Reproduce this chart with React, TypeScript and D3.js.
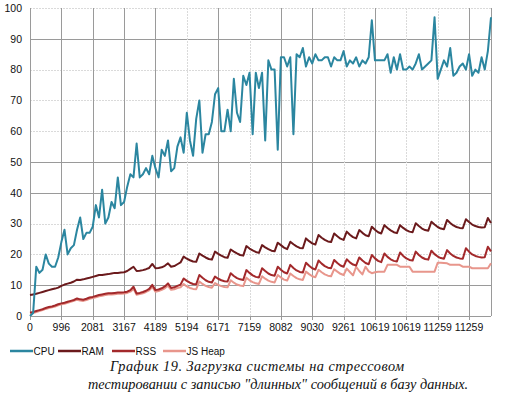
import React from 'react';
import * as d3 from 'd3';

const cpu = [
  0, 1, 16, 14, 15, 20, 17, 16, 16, 19,
  24, 28, 20, 22, 23, 28, 32, 25, 27, 27,
  29, 36, 32, 41, 30, 32, 37, 35, 45, 36,
  37, 42, 46, 45, 56, 45, 46, 48, 46, 52,
  48, 45, 54, 52, 57, 47, 48, 55, 58, 53,
  66, 57, 52, 64, 70, 53, 59, 59, 63, 72,
  74, 60, 60, 67, 60, 77, 66, 63, 78, 75,
  79, 59, 79, 74, 79, 57, 83, 80, 80, 54,
  84, 84, 81, 84, 59, 85, 84, 87, 81, 84,
  82, 85, 83, 83, 84, 84, 81, 84, 83, 83,
  86, 81, 83, 82, 84, 81, 83, 82, 84, 96,
  83, 83, 83, 83, 85, 79, 84, 80, 85, 80,
  80, 81, 80, 82, 85, 80, 81, 82, 83, 97,
  77, 80, 83, 81, 87, 78, 79, 81, 82, 80,
  85, 78, 80, 79, 84, 80, 86, 97,
];

const ram = [
  6.8, 7.0, 7.2, 7.5, 7.8, 8.1, 8.4, 8.7, 8.9, 9.2,
  9.8, 10.2, 10.5, 10.8, 11.2, 11.8, 11.7, 11.9, 12.2, 12.4,
  12.7, 13.0, 13.3, 13.3, 13.5, 13.6, 13.8, 14.0, 14.0, 14.1,
  14.2, 14.6, 15.3, 16.0, 14.6, 14.7, 14.9, 15.2, 15.6, 16.9,
  15.5, 15.6, 15.8, 16.3, 17.1, 16.0, 16.2, 16.8, 17.4, 19.3,
  18.6, 18.1, 17.7, 17.6, 20.3, 19.6, 19.0, 18.5, 18.3, 20.9,
  20.2, 19.6, 19.1, 18.9, 21.6, 20.9, 20.3, 19.8, 19.6, 22.7,
  21.9, 21.3, 20.8, 20.5, 23.0, 22.3, 21.7, 21.2, 21.0, 23.8,
  23.0, 22.2, 21.7, 24.1, 23.3, 22.6, 22.1, 22.0, 25.2, 24.3,
  23.6, 23.2, 26.3, 25.4, 24.7, 24.2, 24.0, 26.8, 25.9, 25.1,
  24.7, 27.4, 26.4, 25.6, 25.2, 27.9, 27.0, 26.2, 25.9, 29.0,
  28.0, 27.2, 26.8, 29.5, 28.6, 27.8, 27.2, 26.9, 29.5, 28.6,
  27.9, 27.4, 27.2, 30.1, 29.2, 28.4, 27.9, 27.7, 30.6, 29.7,
  28.9, 28.4, 28.2, 31.2, 30.2, 29.4, 28.9, 28.6, 28.5, 31.4,
  30.5, 29.7, 29.2, 28.9, 28.7, 28.8, 31.8, 30.2,
];

const rss = [
  1.1, 1.3, 1.6, 1.9, 2.2, 2.6, 2.9, 3.1, 3.4, 3.8,
  4.1, 4.3, 4.6, 4.9, 5.2, 5.7, 5.4, 5.3, 5.6, 6.0,
  6.2, 6.5, 6.8, 7.0, 7.2, 7.4, 7.4, 7.5, 7.6, 7.6,
  7.7, 7.9, 8.4, 9.5, 7.3, 7.5, 7.8, 8.2, 8.8, 10.1,
  8.4, 8.6, 9.0, 9.6, 10.6, 9.1, 9.3, 9.8, 10.2, 12.2,
  11.4, 10.8, 10.4, 10.3, 13.3, 12.4, 11.6, 11.1, 10.9, 12.8,
  12.1, 11.6, 11.3, 11.2, 13.9, 13.0, 12.3, 11.9, 11.7, 14.9,
  14.0, 13.2, 12.7, 12.5, 15.5, 14.6, 13.8, 13.3, 13.1, 16.0,
  15.0, 14.2, 13.8, 16.6, 15.6, 14.8, 14.3, 14.1, 17.3, 16.3,
  15.5, 15.1, 18.0, 17.0, 16.2, 15.7, 15.5, 18.2, 17.2, 16.4,
  16.0, 18.4, 17.4, 16.7, 16.4, 19.0, 18.0, 17.2, 16.8, 19.8,
  18.7, 17.9, 17.5, 20.3, 19.2, 18.4, 17.9, 17.7, 20.6, 19.5,
  18.7, 18.2, 18.0, 20.9, 19.8, 19.0, 18.5, 18.3, 21.2, 20.1,
  19.3, 18.8, 18.6, 21.4, 20.3, 19.5, 19.0, 18.7, 18.6, 22.0,
  20.9, 20.0, 19.5, 19.2, 19.0, 19.1, 22.5, 21.0,
];

const jsHeap = [
  0.8, 1.0, 1.3, 1.6, 1.9, 2.3, 2.6, 2.8, 3.1, 3.5,
  3.8, 4.0, 4.3, 4.6, 4.9, 5.3, 5.0, 4.9, 5.2, 5.6,
  5.8, 6.1, 6.4, 6.6, 6.8, 7.0, 7.0, 7.1, 7.2, 7.2,
  7.3, 7.5, 7.9, 8.8, 6.9, 7.1, 7.4, 7.8, 8.3, 9.4,
  7.9, 8.1, 8.5, 9.0, 9.8, 8.5, 8.7, 9.1, 9.3, 10.4,
  9.6, 9.1, 8.8, 8.7, 11.2, 10.4, 9.8, 9.4, 9.2, 10.7,
  10.1, 9.7, 9.4, 9.3, 11.6, 10.8, 10.2, 9.9, 9.7, 12.4,
  11.6, 11.0, 10.6, 10.4, 12.9, 12.1, 11.5, 11.1, 10.9, 13.3,
  12.5, 11.8, 11.5, 13.8, 13.0, 12.3, 11.9, 11.7, 14.4, 13.6,
  12.9, 12.6, 15.0, 14.2, 13.5, 13.1, 12.9, 15.2, 14.4, 13.7,
  13.3, 15.4, 14.3, 13.2, 16.0, 14.6, 13.5, 16.0, 14.5, 13.9,
  14.2, 14.4, 14.4, 14.4, 16.6, 16.6, 16.6, 16.6, 16.0, 16.0,
  16.0, 16.0, 14.4, 14.4, 14.4, 14.4, 14.4, 14.4, 14.4, 14.4,
  17.3, 17.3, 17.2, 17.1, 16.6, 16.6, 16.6, 16.6, 16.0, 16.0,
  16.0, 15.5, 15.5, 15.5, 15.5, 15.5, 15.5, 17.1,
];

const xTickLabels = [
  '0', '996', '2081', '3167', '4189', '5194', '6171', '7159',
  '8082', '9030', '9261', '10619', '10619', '11259', '11259',
];
const seriesNames = ['CPU', 'RAM', 'RSS', 'JS Heap'];
const captionLines = [
  'График 19. Загрузка системы на стрессовом',
  'тестировании с записью "длинных" сообщений в базу данных.',
];

const TICK_EVERY = 10;
const colors = ['#2b86a0', '#6b1a1c', '#a3292b', '#e8968c'];
const darkY = [0, 10, 40, 50, 90];
const darkXIdx = [0, 1, 2, 3, 4, 6, 8, 9, 11, 14];
const legendX = [10, 58, 112, 163];
const FONT = '"Liberation Sans", Arial, sans-serif';
const SERIF = '"Liberation Serif", "Times New Roman", serif';

export default function App() {
  const W = 513, H = 397;
  const left = 30, right = 491, top = 8, bottom = 316;
  const data = [cpu, ram, rss, jsHeap];
  const n = cpu.length;
  const x = d3.scaleLinear().domain([0, n - 1]).range([left, right]);
  const y = d3.scaleLinear().domain([0, 100]).range([bottom, top]);
  const yTicks = y.ticks(10);
  const line = d3.line<number>().x((_, i) => x(i)).y((v) => y(v));
  const drawOrder = [3, 2, 1, 0];

  return (
    <svg width={W} height={H} style={{ position: 'absolute', left: 0, top: 0, background: '#fff' }}>
      <rect x={0} y={0} width={W} height={H} fill="#fff" />
      {yTicks.map((t) => {
        const dark = darkY.includes(t);
        return (
          <line key={'gy' + t} x1={left} x2={right} y1={Math.round(y(t)) + 0.5} y2={Math.round(y(t)) + 0.5}
            stroke={dark ? '#9a9a9a' : '#dadada'} strokeWidth={1}
            strokeDasharray={dark ? undefined : '2,1'} />
        );
      })}
      {xTickLabels.map((lab, k) => {
        const xi = Math.round(x(k * TICK_EVERY)) + 0.5;
        const dark = darkXIdx.includes(k);
        return (
          <g key={'gx' + k}>
            <line x1={xi} x2={xi} y1={top} y2={bottom} stroke={dark ? '#9a9a9a' : '#dadada'}
              strokeDasharray={dark ? undefined : '2,1'} />
            <line x1={xi} x2={xi} y1={bottom} y2={bottom + 4} stroke="#9a9a9a" />
            <text x={x(k * TICK_EVERY)} y={331} fontSize={10.5} fontFamily={FONT} textAnchor="middle" fill="#111">{lab}</text>
          </g>
        );
      })}
      <line x1={Math.round(right) + 0.5} x2={Math.round(right) + 0.5} y1={top} y2={bottom} stroke="#9a9a9a" />
      <line x1={left} x2={right} y1={bottom + 0.5} y2={bottom + 0.5} stroke="#9a9a9a" />
      {yTicks.map((t) => (
        <text key={'yl' + t} x={22} y={y(t) + 3.8} fontSize={10.5} fontFamily={FONT} textAnchor="end" fill="#111">{t}</text>
      ))}
      {drawOrder.map((s) => (
        <path key={'s' + s} d={line(data[s]) || ''} fill="none" stroke={colors[s]} strokeWidth={2}
          strokeLinejoin="round" />
      ))}
      {seriesNames.map((nm, s) => (
        <g key={'lg' + s}>
          <line x1={legendX[s]} x2={legendX[s] + 23} y1={351} y2={351} stroke={colors[s]} strokeWidth={2.5} />
          <text x={legendX[s] + 23.5} y={354.5} fontSize={10} fontFamily={FONT} fill="#111">{nm}</text>
        </g>
      ))}
      <text x={110} y={370.5} fontSize={14.3} fontStyle="italic" fontFamily={SERIF} fill="#111" letterSpacing={0.5}>{captionLines[0]}</text>
      <text x={88} y={389} fontSize={14.3} fontStyle="italic" fontFamily={SERIF} fill="#111">{captionLines[1]}</text>
    </svg>
  );
}
